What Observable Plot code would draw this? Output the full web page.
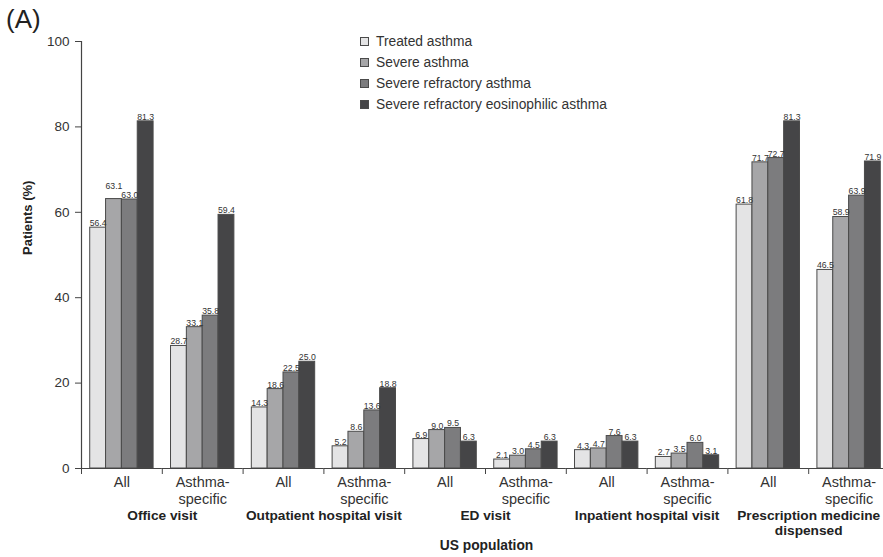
<!DOCTYPE html>
<html>
<head>
<meta charset="utf-8">
<script src="https://cdn.jsdelivr.net/npm/d3@7"></script>
<script src="https://cdn.jsdelivr.net/npm/@observablehq/plot@0.6"></script>
<style>
  html, body { margin: 0; padding: 0; background: white; }
  #wrap { position: relative; width: 883px; height: 557px; font-family: "Liberation Sans", Arial, sans-serif; color: #333; }
  #panel { position: absolute; left: 6px; top: 4px; font-size: 26px; color: #222; }
  #legend { position: absolute; left: 360px; top: 31px; font-size: 13.8px; color: #333; }
  .row { display: flex; align-items: center; height: 21px; }
  .sw { width: 9px; height: 9px; border: 1px solid #4a4a4a; margin-right: 7px; box-sizing: border-box; }
</style>
</head>
<body>
<div id="wrap">
  <div id="chart"></div>
  <div id="panel">(A)</div>
  <div id="legend"></div>
</div>
<script>
const categories = ["Office visit", "Outpatient hospital visit", "ED visit", "Inpatient hospital visit", "Prescription medicine\ndispensed"];
const subgroups = ["All", "Asthma-\nspecific"];
const series = ["Treated asthma", "Severe asthma", "Severe refractory asthma", "Severe refractory eosinophilic asthma"];
const colors = ["#e4e4e5", "#a6a6a8", "#7c7c7e", "#454547"];
// values in group order: Office All, Office AS, Outpatient All, Outpatient AS, ED All, ED AS, Inpatient All, Inpatient AS, Rx All, Rx AS
const treated     = [56.4, 28.7, 14.3, 5.2, 6.9, 2.1, 4.3, 2.7, 61.8, 46.5];
const severe      = [63.1, 33.1, 18.6, 8.6, 9.0, 3.0, 4.7, 3.5, 71.7, 58.9];
const refractory  = [63.0, 35.8, 22.5, 13.6, 9.5, 4.5, 7.6, 6.0, 72.7, 63.9];
const eosinophilic= [81.3, 59.4, 25.0, 18.8, 6.3, 6.3, 6.3, 3.1, 81.3, 71.9];
const yTicks = [0, 20, 40, 60, 80, 100];

const seriesValues = [treated, severe, refractory, eosinophilic];
const keys = [];
categories.forEach((c, ci) => subgroups.forEach((s, si) => keys.push(`${ci}|${si}`)));
const data = [];
keys.forEach((k, gi) => {
  series.forEach((s, i) => {
    const v = seriesValues[i][gi];
    const next = i < series.length - 1 ? seriesValues[i + 1][gi] : null;
    // lift a label when its right neighbour has an almost identical height (avoid collision)
    const lift = next != null && Math.abs(v - next) < 0.3;
    data.push({key: k, series: s, value: v, lift});
  });
});
const subLabel = k => subgroups[+k.split("|")[1]];
const catLabel = k => categories[+k.split("|")[0]];
const catKeys = keys.filter(k => k.endsWith("|1"));

const fxRange = [81, 889];
const step = (fxRange[1] - fxRange[0]) / keys.length;

const labelOpts = {fx: "key", x: "series", y: "value", text: d => d.value.toFixed(1), lineAnchor: "bottom", fontSize: 8.7, fill: "#333"};

const chart = Plot.plot({
  width: 883,
  height: 557,
  marginLeft: 81,
  marginRight: 0,
  marginTop: 41,
  marginBottom: 89,
  style: {fontFamily: "'Liberation Sans', Arial, sans-serif", color: "#333", background: "white", overflow: "visible"},
  fx: {domain: keys, range: fxRange, paddingInner: 0, paddingOuter: 0, round: false, label: null, axis: null},
  x: {domain: series, paddingInner: 0, paddingOuter: 0.55, round: false, axis: null},
  y: {domain: [0, 100], range: [468, 41], axis: null},
  color: {domain: series, range: colors},
  marks: [
    Plot.barY(data, {fx: "key", x: "series", y: "value", fill: "series", stroke: "#4a4a4a", strokeWidth: 1}),
    Plot.text(data.filter(d => !d.lift), {...labelOpts, dy: -1.5}),
    Plot.text(data.filter(d => d.lift), {...labelOpts, dy: -10}),
    Plot.ruleY([0], {stroke: "#444", strokeWidth: 1.2}),
    Plot.frame({anchor: "left", facet: "super", stroke: "#444", strokeWidth: 1.2}),
    Plot.axisY({ticks: yTicks, tickSize: 6, tickPadding: 6, fontSize: 13.5, label: null, stroke: "#444", fill: "#333"}),
    Plot.text(["Patients (%)"], {facet: "super", frameAnchor: "left", rotate: -90, dx: -54, fontWeight: "bold", fontSize: 13, fill: "#222"}),
    Plot.axisFx({anchor: "bottom", ticks: keys, text: null, tickSize: 6, dx: -step / 2, stroke: "#444", label: null}),
    Plot.axisFx({anchor: "bottom", ticks: keys, tickFormat: subLabel, tickSize: 0, tickPadding: 6, fontSize: 14.5, lineHeight: 1.17, fill: "#333", label: null}),
    Plot.axisFx({anchor: "bottom", ticks: catKeys, tickFormat: catLabel, tickSize: 0, tickPadding: 41, dx: -step / 2, fontSize: 13.7, fontWeight: "bold", lineHeight: 1.1, fill: "#222", label: null}),
    Plot.text(["US population"], {facet: "super", frameAnchor: "bottom", dy: 81, dx: 1, fontWeight: "bold", fontSize: 13.8, fill: "#222"})
  ]
});
document.getElementById("chart").appendChild(chart);

const legend = d3.select("#legend");
series.forEach((s, i) => {
  const row = legend.append("div").attr("class", "row");
  row.append("div").attr("class", "sw").style("background", colors[i]);
  row.append("span").text(s);
});
</script>
</body>
</html>
